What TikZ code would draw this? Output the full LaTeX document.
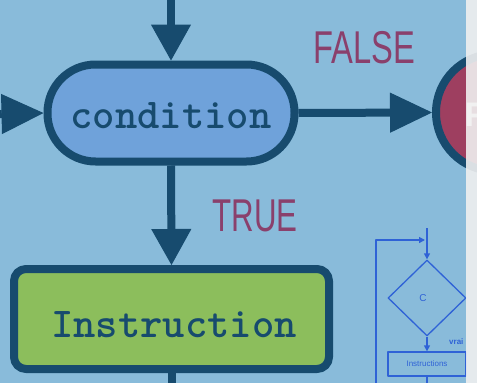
\documentclass[tikz,border=0pt]{standalone}
\usepackage{fontspec}
\setmainfont{Liberation Sans}
\usetikzlibrary{arrows.meta,shapes.geometric}
\definecolor{nen}{HTML}{89BBDA}
\definecolor{vien}{HTML}{174B6E}
\definecolor{xanh}{HTML}{6FA2DA}
\definecolor{luc}{HTML}{8CBE5C}
\definecolor{do}{HTML}{9E3F60}
\definecolor{tim}{HTML}{8A406C}
\definecolor{net}{HTML}{2F62D6}
\begin{document}
\begin{tikzpicture}[x=1pt,y=-1pt, line join=round,
  >={Triangle[width=40pt,length=36pt,line width=1pt]},
  khoi/.style={draw=vien,line width=8pt,inner sep=0pt},
  chu/.style={text=vien,inner sep=0pt,font=\ttfamily\bfseries\fontsize{42.5}{42.5}\selectfont},
  nhan/.style={text=tim,font=\fontsize{46}{46}\selectfont},
  mui/.style={draw=vien,line width=8pt,->},
  muingang/.style={draw=vien,line width=8pt,-{Triangle[width=40pt,length=42pt,line width=1pt]}},
  nho/.style={draw=net,line width=1.3pt,inner sep=0pt},
  chunho/.style={text=net,inner sep=0pt},
  munho/.style={-{Triangle[width=6pt,length=6pt]}}]
\def\W{477} \def\H{383} % kich thuoc
\fill[nen] (0,0) rectangle (\W,\H);
\clip (0,0) rectangle (\W,\H);
% so do chinh
\node[khoi,rectangle,rounded corners=48pt,fill=xanh,minimum width=247pt,minimum height=97pt] (cond) at (171,113) {};
\node[chu] (tcond) at (171,116) {condition};
\node[khoi,rectangle,rounded corners=12pt,fill=luc,minimum width=315pt,minimum height=100pt] (instr) at (171.5,319) {};
\node[chu] (tinstr) at (174,325) {Instruction};
\node[khoi,circle,fill=do,minimum size=117pt] (fin) at (494.5,112.5) {};
\node[anchor=west,text=white,font=\bfseries\fontsize{34}{34}\selectfont] (tfin) at (461,114) {Fin};
\coordinate (tren) at (171,0);
\coordinate (trai) at (-40,115);
\coordinate (duoi) at (171.5,\H);
\draw[mui] (tren) -- (cond.north);
\draw[muingang] (trai) -- (cond.west);
\draw[muingang] (cond.east) -- (fin.west);
\draw[mui] (cond.south) -- (instr.north);
\draw[vien,line width=8pt] (instr.south) -- (duoi);
\node[nhan] (sai) at (364,48) {\scalebox{0.71}[1]{FALSE}};
\node[nhan] (dung) at (255,216) {\scalebox{0.68}[1]{TRUE}};
% hinh nho
\node[nho,diamond,minimum width=78pt,minimum height=76pt] (dk) at (427,298) {};
\node[chunho,font=\fontsize{10}{10}\selectfont] (c) at (423,298) {C};
\node[nho,rectangle,minimum width=78pt,minimum height=24pt,text=net,font=\fontsize{8}{8}\selectfont] (lenh) at (427,364) {Instructions};
\node[chunho,anchor=west,font=\bfseries\fontsize{8}{8}\selectfont] (vrai) at (449,342) {vrai};
\coordinate (vao) at (427,228);
\coordinate (noi) at (425,240);
\coordinate (goc) at (376,240);
\coordinate (vong) at (376,\H);
\coordinate (ra) at (427,\H);
\draw[nho,munho] (vao) -- (dk.north);
\draw[nho,munho] (vong) -- (goc) -- (noi);
\draw[nho,munho] (dk.south) -- (lenh.north);
\draw[nho] (lenh.south) -- (ra);
% dai xam ben phai
\fill[gray!12,opacity=0.9] (466,0) rectangle (\W,\H);
\end{tikzpicture}
\end{document}
